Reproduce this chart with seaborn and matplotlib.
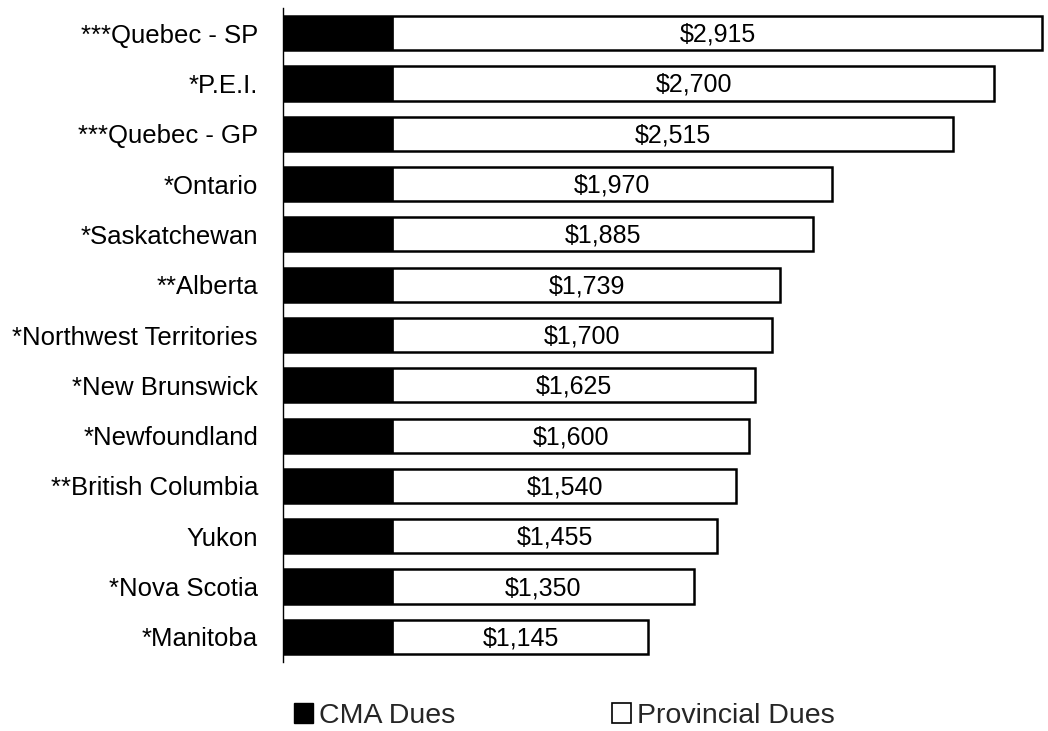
import pandas as pd
import numpy as np
from matplotlib import pyplot as plt
import seaborn as sns
from matplotlib.patches import Patch

# Dues by province, sorted as in the chart
regions = ["***Quebec - SP", "*P.E.I.", "***Quebec - GP", "*Ontario", "*Saskatchewan",
           "**Alberta", "*Northwest Territories", "*New Brunswick", "*Newfoundland",
           "**British Columbia", "Yukon", "*Nova Scotia", "*Manitoba"]
provincial_dues = [2915, 2700, 2515, 1970, 1885, 1739, 1700, 1625, 1600, 1540, 1455, 1350, 1145]
cma_dues = [495] * len(regions)

df = pd.DataFrame({"Region": regions, "CMA": cma_dues, "Provincial": provincial_dues})
df["Total"] = df["CMA"] + df["Provincial"]

sns.set_theme(style="white")
plt.rcParams["font.family"] = ["Liberation Sans", "DejaVu Sans"]

fig = plt.figure(figsize=(10.48, 7.31), dpi=100)
ax = fig.add_axes([283 / 1048, 69 / 731, (1046 - 283) / 1048, (723 - 69) / 731])

# stacked bars: total in white, CMA part drawn over it in black
sns.barplot(x="Total", y="Region", data=df, order=regions, color="white",
            edgecolor="black", linewidth=1.8, width=0.68, ax=ax, orient="h")
sns.barplot(x="CMA", y="Region", data=df, order=regions, color="black",
            edgecolor="black", linewidth=0.5, width=0.68, ax=ax, orient="h")
for p in ax.patches:
    p.set_alpha(1)

# value labels in the middle of the provincial part
for i, row in df.iterrows():
    ax.text(row["CMA"] + row["Provincial"] / 2, i + 0.03, "${:,}".format(row["Provincial"]),
            ha="center", va="center", fontsize=18, color="black")

ax.set_xlim(0, (1046 - 283) / 0.2226)
ax.set_ylim(12.5, -0.5)
ax.set_xlabel("")
ax.set_ylabel("")
ax.set_xticks([])
ax.tick_params(axis="y", length=0, labelsize=18.5, pad=18, colors="black")
for s in ["top", "right", "bottom"]:
    ax.spines[s].set_visible(False)
ax.spines["left"].set_color("black")
ax.spines["left"].set_linewidth(1)

handles = [
    Patch(facecolor="black", edgecolor="black", label="CMA Dues"),
    Patch(facecolor="white", edgecolor="black", linewidth=1.2, label="Provincial Dues"),
]
fig.legend(handles=handles, loc="center", bbox_to_anchor=(564 / 1048, 1 - 716 / 731),
           ncol=2, frameon=False, fontsize=20.5, handlelength=0.68, handleheight=0.68,
           handletextpad=0.2, columnspacing=5.5, borderpad=0, borderaxespad=0)

plt.savefig("out.png", dpi=100)
